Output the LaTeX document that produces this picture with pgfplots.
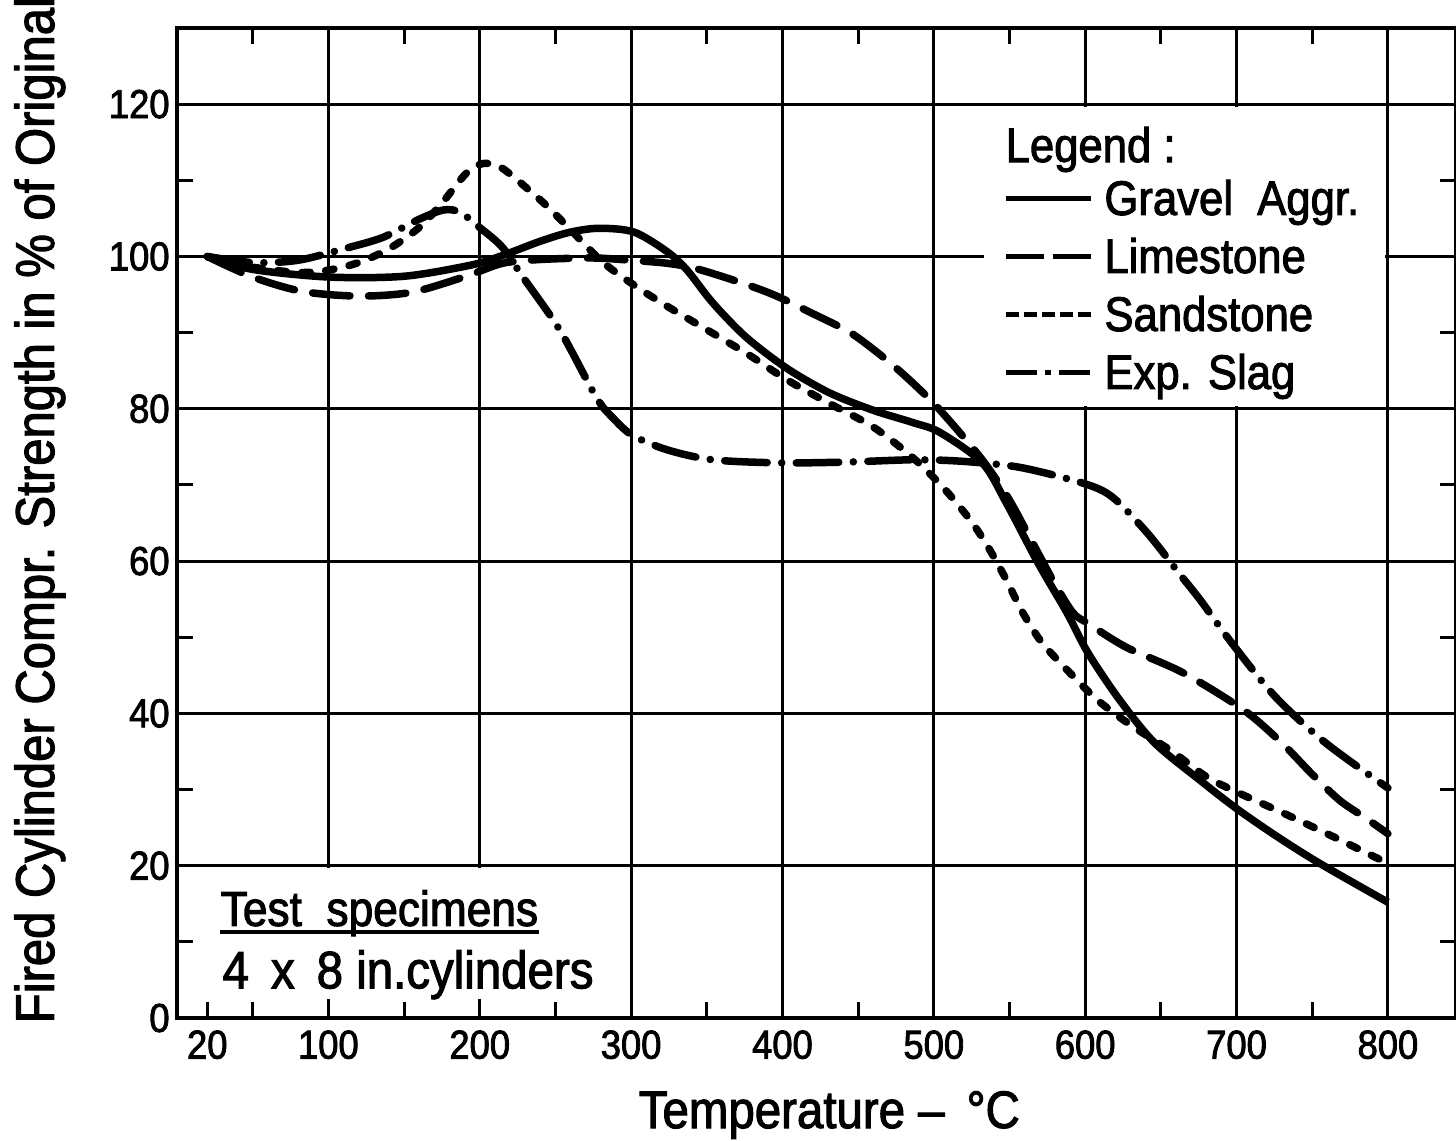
\documentclass[border=0pt]{standalone}
\usepackage{fontspec}
\setmainfont{Liberation Sans}[FakeStretch=0.9, FakeBold=2]
\usepackage{pgfplots}
\pgfplotsset{compat=1.18}

\begin{document}
\begin{tikzpicture}
\begin{axis}[
  name=ax,
  scale only axis,
  width=127.9mm, height=99.0mm,
  xmin=0, xmax=845, ymin=0, ymax=130,
  axis line style={line width=0.45mm},
  xtick={100,200,...,800},
  extra x ticks={20},
  extra x tick style={grid=none, xtick pos=left},
  minor xtick={50,150,...,750},
  ytick={0,20,...,120},
  minor ytick={10,30,...,110},
  grid=major,
  major grid style={line width=0.3mm, black},
  every tick/.style={line width=0.3mm, black},
  major tick length=1.6mm, minor tick length=1.6mm,
  tick align=inside,
  /pgf/number format/assume math mode=true,
  ticklabel style={font=\fontsize{11.5}{12}\selectfont},
  yticklabel style={xshift=0.5mm},
  xlabel={Temperature -- \,°C},
  ylabel={Fired Cylinder Compr. Strength in \% of Original},
  xlabel style={at={(axis description cs:0.51,0)}, anchor=base, yshift=-11mm, inner sep=0pt, font=\fontsize{15}{18}\selectfont},
  ylabel style={at={(axis description cs:-0.0962,0.513)}, anchor=base, inner sep=0pt, font=\fontsize{15.5}{18}\selectfont},
  legend image code/.code={\draw[#1] (0mm,0mm) -- (8.5mm,0mm);},
  legend style={at={(axis cs:546,110.7)}, anchor=north west, draw=none, fill=none, inner sep=0pt, outer sep=0pt, row sep=1.1mm, font=\fontsize{13.8}{16}\selectfont, nodes={inner sep=0pt, text height=4.0mm, text depth=0.7mm}, /tikz/every odd column/.style={column sep=1.1mm}},
  legend cell align=left,
]
% Gravel Aggr.
\addplot[line width=0.75mm, smooth, forget plot] coordinates {
(20,100)(50,98.3)(100,97.3)(150,97.4)(195,98.9)(216,100.2)(240,102)(260,103.2)(279,103.7)(302,103.2)(324,100.6)(337,98.2)(354,93.9)(376,89.4)(403,85.3)(431,82.1)(460,79.8)(486,78.2)(504,76.9)(532,72.9)(548,67.6)(569,59.7)(588,53.2)(602,47.9)(623,41.7)(646,36.1)(676,31.2)(700,27.5)(727,23.8)(755,20.3)(800,15.2)};
% Limestone
\addplot[line width=0.75mm, smooth, line cap=round, dash pattern=on 3.75mm off 1.85mm, forget plot] coordinates {
(20,100)(50,97.3)(83,95.4)(120,94.8)(155,95.3)(191,97.4)(215,99.1)(240,99.6)(275,99.8)(300,99.5)(324,99.1)(343,98.4)(372,96.6)(395,94.9)(420,92.5)(444,90.1)(462,87.5)(480,84.5)(500,80.7)(520,76.2)(535,72.5)(550,68)(565,62.5)(580,57)(592,53.2)(602,51.8)(627,48.7)(665,45.3)(705,40.4)(730,36.1)(749,32.2)(768,28.6)(785,26.3)(800,24.2)};
% Sandstone
\addplot[line width=0.75mm, smooth, line cap=round, dash pattern=on 0.85mm off 1.55mm, forget plot] coordinates {
(20,100)(50,98.6)(80,97.9)(100,98.2)(120,99.2)(140,101)(160,103.8)(175,107)(191,110.9)(202,112.2)(213,111.8)(225,110)(244,106.7)(260,103.5)(281,99.3)(300,96.5)(321,93.8)(343,91.2)(376,87.3)(403,83.8)(431,80.7)(460,77.6)(486,73.6)(506,69.7)(524,65.4)(536,61.8)(548,57.5)(558,53.5)(571,49.4)(590,45.3)(609,41.6)(632,38.2)(656,35.2)(680,31.7)(702,29.5)(731,26.9)(764,23.8)(800,20.3)};
% Exp. Slag
\addplot[line width=0.75mm, smooth, line cap=round, dash pattern=on 4.25mm off 1.45mm on 0.01mm off 1.45mm, forget plot] coordinates {
(20,100)(50,99.2)(80,99.5)(112,101.1)(136,102.5)(159,104.8)(176,106.1)(187,105.8)(200,103.8)(215,101.2)(228.5,97.3)(253,90.3)(277,81.5)(288,78.8)(301,76.5)(324,74.6)(354,73.3)(398,72.9)(442,73)(486,73.3)(519,73.1)(557,72.3)(599,70.2)(618,68.4)(641,63.7)(662,58.4)(676,54.9)(697,49.2)(726,42.1)(759,36.1)(800,30.2)};

% white panels that interrupt the grid
\fill[white] (axis cs:533,80.35) rectangle (axis cs:798.3,119.65);
\fill[white] (axis cs:60,2.5) rectangle (axis cs:250,19.65);

\addlegendimage{line width=0.5mm}
\addlegendentry{Gravel\ \ Aggr.}
\addlegendimage{line width=0.5mm, dash pattern=on 3.8mm off 0.9mm}
\addlegendentry{Limestone}
\addlegendimage{line width=0.5mm, dash pattern=on 1.35mm off 0.44mm}
\addlegendentry{Sandstone}
\addlegendimage{line width=0.5mm, dash pattern=on 3.1mm off 0.8mm on 0.6mm off 0.8mm}
\addlegendentry{Exp. Slag}

\node[anchor=base west, inner sep=0pt, font=\fontsize{13.8}{16}\selectfont] at (axis cs:547,112.4) {Legend :};
\node[anchor=base west, inner sep=0pt, font=\fontsize{14}{16}\selectfont] (ts) at (axis cs:28.4,12.1) {Test\ \ specimens};
\draw[line width=0.4mm] ([yshift=-0.6mm]ts.base west) -- ([yshift=-0.6mm]ts.base east);
\node[anchor=base west, inner sep=0pt, font=\fontsize{15}{18}\selectfont] at (axis cs:29.7,3.9) {4\ \,x\ \,8 in.cylinders};
\end{axis}
\pgfresetboundingbox
\path[use as bounding box] ([xshift=-17.7mm,yshift=-12.2mm]ax.south west) rectangle ([yshift=2.8mm]ax.north east);
\end{tikzpicture}
\end{document}
